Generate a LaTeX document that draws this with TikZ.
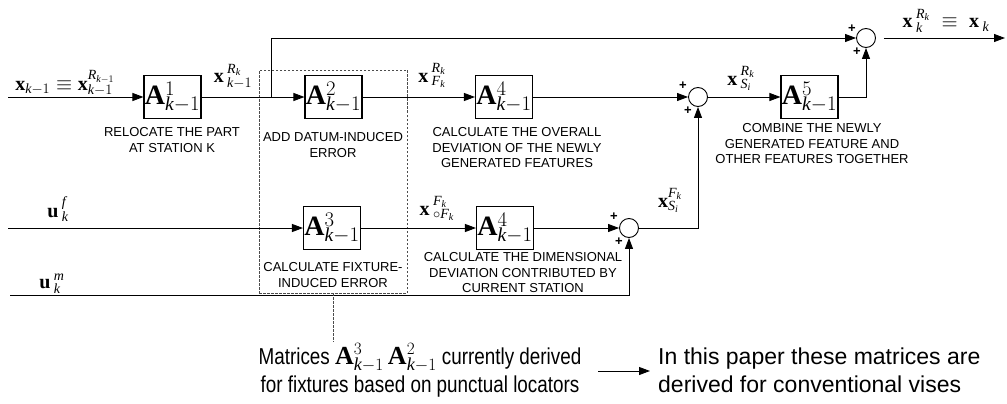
\documentclass[tikz,border=0pt]{standalone}
\usepackage{fontspec}
\setmainfont{Liberation Serif}
\setsansfont{Liberation Sans}
\newfontfamily\narrowsans[FakeStretch=0.82]{Liberation Sans}
\usetikzlibrary{arrows.meta,calc}
\newcommand{\ki}{\mathit{k}}
\newcommand{\Am}[1]{\mathbf{A}^{#1}_{\ki-1}}
\begin{document}
\begin{tikzpicture}[x=1pt,y=-1pt,
  blk/.style={draw,line width=1.1pt,minimum width=57pt,minimum height=43pt,inner sep=0pt,font=\fontsize{28}{30}\selectfont},
  sumc/.style={draw,circle,line width=0.9pt,minimum size=19pt,inner sep=0pt},
  lbl/.style={font=\sffamily\fontsize{13}{15.5}\selectfont,align=center,inner sep=0pt},
  mlab/.style={font=\fontsize{20}{22}\selectfont,inner sep=0pt,anchor=base},
  pl/.style={font=\sffamily\bfseries\fontsize{13}{13}\selectfont,inner sep=0pt},
  arr/.style={-{Triangle[length=11pt,width=8pt]},line width=0.9pt},
  dbox/.style={draw=black!70,dashed,dash pattern=on 2.5pt off 1.5pt,line width=0.8pt,inner sep=0pt,minimum width=148pt,minimum height=223pt},
  btxt/.style={font=\narrowsans\fontsize{23}{28}\selectfont,inner sep=0pt,anchor=base},
  rtxt/.style={font=\sffamily\fontsize{23}{28}\selectfont,inner sep=0pt,anchor=base west},
]
\useasboundingbox (0,0) rectangle (1007,404);

% dashed grouping box
\node[dbox] (grp) at (333,181.5) {};

% blocks
\node[blk] (A1) at (172.5,97) {$\Am{1}$};
\node[blk] (A2) at (333.5,97) {$\Am{2}$};
\node[blk] (A4t) at (504,97) {$\Am{4}$};
\node[blk] (A5) at (809.5,97) {$\Am{5}$};
\node[blk] (A3) at (332,228) {$\Am{3}$};
\node[blk] (A4b) at (505,228) {$\Am{4}$};

% summing junctions
\node[sumc] (S2) at (698,97) {};
\node[sumc] (S3) at (866,38) {};
\node[sumc] (S1) at (629,228) {};

% plus signs
\node[pl] (p3a) at ($(S3)+(-14,-9)$) {+};
\node[pl] (p3b) at ($(S3)+(-9,14)$) {+};
\node[pl] (p2a) at ($(S2)+(-15,-11)$) {+};
\node[pl] (p2b) at ($(S2)+(-10,14)$) {+};
\node[pl] (p1a) at ($(S1)+(-15,-11)$) {+};
\node[pl] (p1b) at ($(S1)+(-10,14)$) {+};

% free ends
\coordinate (in1) at (8,97);
\coordinate (inf) at (8,228);
\coordinate (inm) at (10,295);
\coordinate (br) at (271,97);
\coordinate (out) at (1005,38);
\coordinate (dnote) at (333,342);
\coordinate (ba) at (598,371);
\coordinate (bb) at (650,371);

% connectors
\draw[arr] (in1) -- (A1);
\draw[arr] (A1) -- (A2);
\draw[arr] (A2) -- (A4t);
\draw[arr] (A4t) -- (S2);
\draw[arr] (S2) -- (A5);
\draw[arr] (A5.east) -| (S3.south);
\draw[arr] (br) |- (S3.west);
\draw[arr,shorten <=8pt] (S3.east) -- (out);
\draw[arr] (inf) -- (A3);
\draw[arr] (A3) -- (A4b);
\draw[arr] (A4b) -- (S1);
\draw[arr] (S1.east) -| (S2.south);
\draw[arr] (inm) -| (S1.south);
\draw[dbox] (grp.south) -- (dnote);
\draw[arr] (ba) -- (bb);

% signal labels
\node[mlab] (lx1) at (65,90) {$\mathbf{x}_{\ki-1}\equiv\mathbf{x}^{\mathit{R}_{\ki-1}}_{\ki-1}$};
\node[mlab] (lx2) at (233,83) {$\mathbf{x}\,{}^{\mathit{R}_{\ki}}_{\ki-1}$};
\node[mlab] (lx3) at (432,82) {$\mathbf{x}\,{}^{\mathit{R}_{\ki}}_{\mathit{F}_{\ki}}$};
\node[mlab] (lx4) at (741,85) {$\mathbf{x}\,{}^{\mathit{R}_{\ki}}_{\mathit{S}_{\mathit{i}}}$};
\node[mlab] (lx5) at (946,28) {$\mathbf{x}\,{}^{\mathit{R}_{\ki}}_{\ki}\;\equiv\;\mathbf{x}\,{}_{\ki}$};
\node[mlab] (lx6) at (437,215) {$\mathbf{x}\,{}^{\mathit{F}_{\ki}}_{\circ\mathit{F}_{\ki}}$};
\node[mlab] (lx7) at (670,207) {$\mathbf{x}{}^{\mathit{F}_{\ki}}_{\mathit{S}_{\mathit{i}}}$};
\node[mlab] (lu1) at (58,217) {$\mathbf{u}\,{}^{\mathit{f}}_{\ki}$};
\node[mlab] (lu2) at (52,288) {$\mathbf{u}\,{}^{\mathit{m}}_{\ki}$};

% block descriptions
\node[lbl] (t1) at (172,140) {RELOCATE THE PART\\AT STATION K};
\node[lbl] (t2) at (333,145) {ADD DATUM-INDUCED\\ERROR};
\node[lbl] (t3) at (517,148) {CALCULATE THE OVERALL\\DEVIATION OF THE NEWLY\\GENERATED FEATURES};
\node[lbl] (t4) at (812,144) {COMBINE THE NEWLY\\GENERATED FEATURE AND\\OTHER FEATURES TOGETHER};
\node[lbl] (t5) at (333,275) {CALCULATE FIXTURE-\\INDUCED ERROR};
\node[lbl] (t6) at (523,273) {CALCULATE THE DIMENSIONAL\\DEVIATION CONTRIBUTED BY\\CURRENT STATION};

% bottom notes
\node[btxt] (bl1) at (420,364) {Matrices {\fontsize{26}{28}\selectfont$\Am{3}\,\Am{2}$} currently derived};
\node[btxt] (bl2) at (420,392) {for fixtures based on punctual locators};
\node[rtxt] (br1) at (658,364) {In this paper these matrices are};
\node[rtxt] (br2) at (658,392) {derived for conventional vises};
\end{tikzpicture}
\end{document}
